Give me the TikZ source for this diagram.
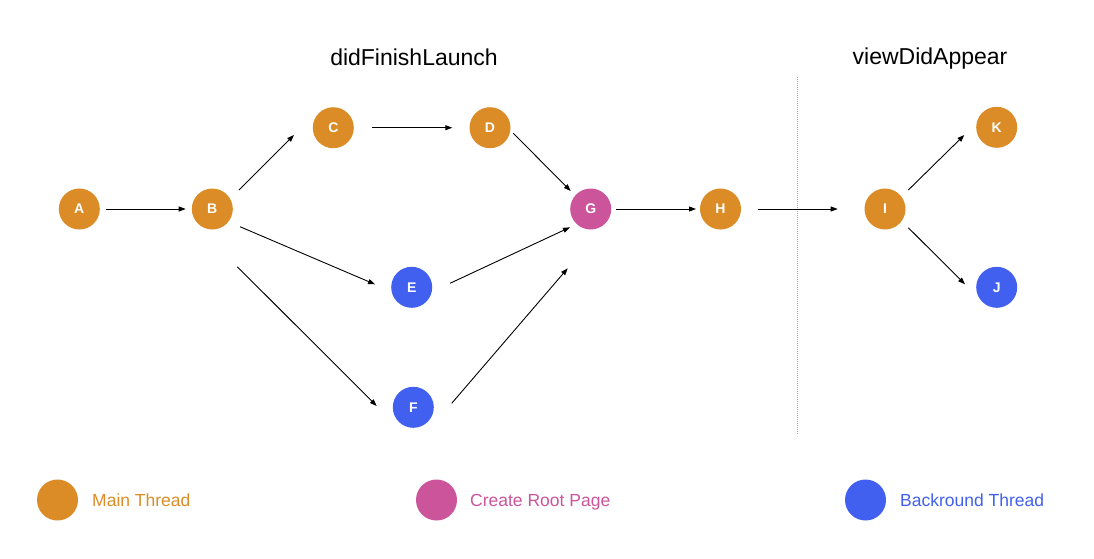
\documentclass[tikz,border=0pt]{standalone}
\usepackage{fontspec}
\setmainfont{Liberation Sans}
\usetikzlibrary{arrows.meta,calc}
\definecolor{mainc}{RGB}{219,140,38}
\definecolor{rootc}{RGB}{204,84,155}
\definecolor{bgc}{RGB}{66,96,240}
\begin{document}
\begin{tikzpicture}[x=1pt,y=-1pt,
  dot/.style={circle,minimum size=41pt,inner sep=0pt,text=white,font=\fontsize{14}{14}\selectfont\bfseries},
  mainn/.style={dot,fill=mainc},
  rootn/.style={dot,fill=rootc},
  bgn/.style={dot,fill=bgc},
  conn/.style={line width=0.9pt,-{Triangle[length=7pt,width=5pt]}},
  title/.style={anchor=base,inner sep=0pt,font=\fontsize{23}{27}\selectfont},
  legtext/.style={anchor=base west,inner sep=0pt,font=\fontsize{17.5}{20}\selectfont}]
\useasboundingbox (0,0) rectangle (1094,558);
% nodes
\node[mainn] (A) at (79.3,209) {A};
\node[mainn] (B) at (212.3,209) {B};
\node[mainn] (C) at (333.3,127.7) {C};
\node[mainn] (D) at (490,127.7) {D};
\node[bgn]   (E) at (411.7,287.3) {E};
\node[bgn]   (F) at (413.3,407.3) {F};
\node[rootn] (G) at (590.7,209) {G};
\node[mainn] (H) at (720.5,209) {H};
\node[mainn] (I) at (885,209) {I};
\node[mainn] (K) at (996.7,127.3) {K};
\node[bgn]   (J) at (996.7,287.3) {J};
% titles
\node[title] (t1) at (414,65) {didFinishLaunch};
\node[title] (t2) at (930,64) {viewDidAppear};
% separator
\coordinate (s1) at (797.7,77);
\coordinate (s2) at (797.7,435);
\draw[gray!70,line width=1pt,dash pattern=on 1pt off 1pt] (s1) -- (s2);
% connectors
\draw[conn] ($(A)+(26.7,0)$) -- ($(B)+(-26.6,0)$);
\draw[conn] ($(B)+(26.7,-19)$) -- ($(C)+(-39.3,7.3)$);
\draw[conn] ($(C)+(38.4,0)$) -- ($(D)+(-37.7,0)$);
\draw[conn] ($(D)+(23.3,5.6)$) -- ($(G)+(-20,-18)$);
\draw[conn] ($(B)+(27.7,17.7)$) -- ($(E)+(-36.7,-3)$);
\draw[conn] ($(B)+(25,57.7)$) -- ($(F)+(-36.6,-1.3)$);
\draw[conn] ($(E)+(38.3,-4)$) -- ($(G)+(-20.7,18.3)$);
\draw[conn] ($(F)+(38.4,-4)$) -- ($(G)+(-23,59.3)$);
\draw[conn] ($(G)+(25.3,0)$) -- ($(H)+(-24.5,0)$);
\draw[conn] ($(H)+(37.2,0)$) -- ($(I)+(-47.3,0)$);
\draw[conn] ($(I)+(23.3,-19)$) -- ($(K)+(-32.4,7.7)$);
\draw[conn] ($(I)+(23.3,18.7)$) -- ($(J)+(-31.7,-3)$);
% legend
\node[circle,minimum size=41pt,inner sep=0pt,fill=mainc] (l1) at (57.5,500) {};
\node[circle,minimum size=41pt,inner sep=0pt,fill=rootc] (l2) at (436.5,500) {};
\node[circle,minimum size=41pt,inner sep=0pt,fill=bgc] (l3) at (865.5,500) {};
\node[legtext,text=mainc] (lt1) at (92,506.5) {Main Thread};
\node[legtext,text=rootc] (lt2) at (470,506.5) {Create Root Page};
\node[legtext,text=bgc] (lt3) at (900,506.5) {Backround Thread};
\end{tikzpicture}
\end{document}
